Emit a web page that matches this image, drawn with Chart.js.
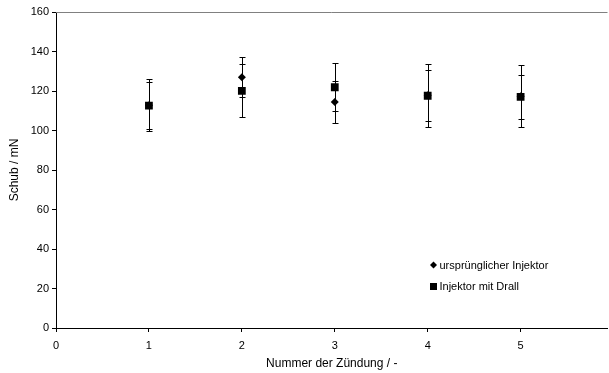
<!DOCTYPE html>
<html>
<head>
<meta charset="utf-8">
<script src="https://cdn.jsdelivr.net/npm/chart.js@4"></script>
<style>
  html, body { margin: 0; padding: 0; background: #fff; overflow: hidden; }
  /* etwas breiter als das Fenster: Chart.js lässt rechts ~4px frei */
  #wrap { width: 613px; height: 373px; }
</style>
</head>
<body>
<div id="wrap"><canvas id="schubChart"></canvas></div>
<script>
// Nummer der Zündung
const zuendung = [1, 2, 3, 4, 5];

// ursprünglicher Injektor (Mittelwert und Fehler)
const urspruenglich = [112.8, 126.9, 114.4, 117.9, 117.4];
const urspruenglichErr = [13.2, 10.1, 10.5, 15.9, 15.6];

// Injektor mit Drall
const drall = [112.6, 120.1, 121.9, 117.6, 117.0];
const drallErr = [11.8, 13.4, 12.1, 12.9, 11.0];

const legendLabels = ['ursprünglicher Injektor', 'Injektor mit Drall'];
const FONT = '"Liberation Sans", Arial, sans-serif';

function toPoints(xs, ys) {
    return xs.map((x, i) => ({ x: x, y: ys[i] }));
}

// Fehlerbalken unter die Marker zeichnen
const errorBars = {
    id: 'errorBars',
    beforeDatasetsDraw(chart) {
        const ctx = chart.ctx;
        const xs = chart.scales.x, ys = chart.scales.y;
        const sets = [[urspruenglich, urspruenglichErr], [drall, drallErr]];
        ctx.save();
        ctx.strokeStyle = '#000';
        ctx.lineWidth = 1;
        sets.forEach(([vals, errs]) => {
            zuendung.forEach((z, i) => {
                const px = Math.round(xs.getPixelForValue(z)) + 0.5;
                const top = Math.round(ys.getPixelForValue(vals[i] + errs[i])) + 0.5;
                const bot = Math.round(ys.getPixelForValue(vals[i] - errs[i])) + 0.5;
                ctx.beginPath();
                ctx.moveTo(px, top); ctx.lineTo(px, bot);
                ctx.moveTo(px - 3, top); ctx.lineTo(px + 3, top);
                ctx.moveTo(px - 3, bot); ctx.lineTo(px + 3, bot);
                ctx.stroke();
            });
        });
        ctx.restore();
    },
    afterDraw(chart) {
        const ctx = chart.ctx;
        const area = chart.chartArea;
        ctx.save();
        // graue obere Rahmenlinie
        ctx.strokeStyle = '#808080';
        ctx.lineWidth = 1;
        ctx.beginPath();
        ctx.moveTo(area.left, area.top + 0.5);
        ctx.lineTo(area.right, area.top + 0.5);
        ctx.stroke();

        // Legende innerhalb des Diagramms
        const lx = area.left + 377.5, ly = area.top + 253;
        ctx.fillStyle = '#000';
        ctx.font = '11px ' + FONT;
        ctx.textBaseline = 'middle';
        // Raute
        ctx.beginPath();
        ctx.moveTo(lx, ly - 3.5); ctx.lineTo(lx + 3.5, ly);
        ctx.lineTo(lx, ly + 3.5); ctx.lineTo(lx - 3.5, ly);
        ctx.closePath();
        ctx.fill();
        ctx.fillText(legendLabels[0], lx + 6, ly + 0.5);
        // Quadrat
        ctx.fillRect(lx - 3.5, ly + 18, 7, 7);
        ctx.fillText(legendLabels[1], lx + 6, ly + 21.5);
        ctx.restore();
    }
};

new Chart(document.getElementById('schubChart'), {
    type: 'scatter',
    data: {
        datasets: [{
            label: legendLabels[0],
            data: toPoints(zuendung, urspruenglich),
            pointStyle: 'rectRot',
            pointRadius: 4,
            backgroundColor: '#000',
            borderColor: '#000',
            borderWidth: 0
        }, {
            label: legendLabels[1],
            data: toPoints(zuendung, drall),
            pointStyle: 'rect',
            pointRadius: 5.5,
            backgroundColor: '#000',
            borderColor: '#000',
            borderWidth: 0
        }]
    },
    options: {
        responsive: true,
        maintainAspectRatio: false,
        animation: false,
        layout: { padding: { top: 12, right: 1, left: 0, bottom: 0 } },
        plugins: {
            legend: { display: false },
            tooltip: { enabled: false }
        },
        scales: {
            x: {
                type: 'linear',
                min: 0,
                max: 5.935,
                afterFit: s => { s.height = 45; },
                border: { display: true, color: '#000', width: 1 },
                grid: { drawOnChartArea: false, drawTicks: true, tickLength: 4, color: '#000' },
                ticks: {
                    stepSize: 1,
                    includeBounds: false,
                    color: '#000',
                    padding: 7,
                    font: { family: FONT, size: 11 },
                    maxRotation: 0
                },
                title: {
                    display: true,
                    text: 'Nummer der Zündung / -',
                    color: '#000',
                    font: { family: FONT, size: 12 },
                    padding: { top: 3, bottom: 2 }
                }
            },
            y: {
                min: 0,
                max: 160,
                afterFit: s => { s.width = 56; },
                border: { display: true, color: '#000', width: 1 },
                grid: { drawOnChartArea: false, drawTicks: true, tickLength: 4, color: '#000' },
                ticks: {
                    stepSize: 20,
                    color: '#000',
                    padding: 3,
                    font: { family: FONT, size: 11 }
                },
                title: {
                    display: true,
                    text: 'Schub / mN',
                    color: '#000',
                    font: { family: FONT, size: 12 },
                    padding: { top: 7, bottom: 0 }
                }
            }
        }
    },
    plugins: [errorBars]
});
</script>
</body>
</html>
